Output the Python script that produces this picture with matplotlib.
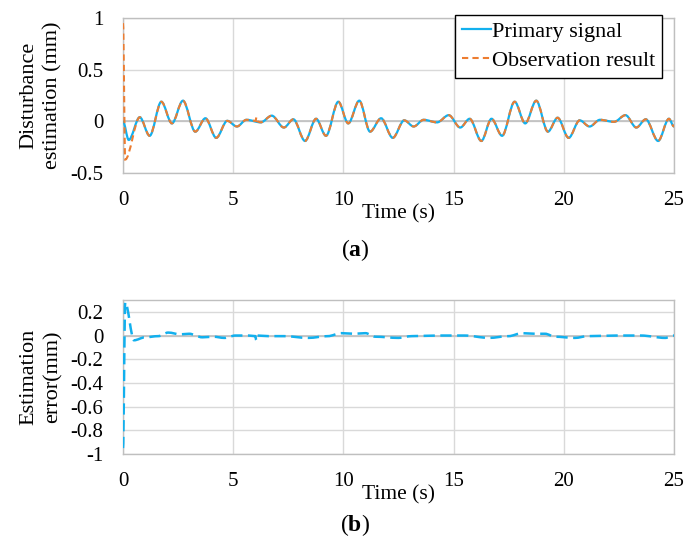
import matplotlib
matplotlib.use("Agg")
import matplotlib.pyplot as plt
from matplotlib.path import Path
from matplotlib.patches import PathPatch
from matplotlib.lines import Line2D

plt.rcParams['font.family'] = ['Liberation Serif', 'DejaVu Serif']
plt.rcParams['mathtext.fontset'] = 'custom'
plt.rcParams['mathtext.rm'] = 'Liberation Serif'
plt.rcParams['mathtext.bf'] = 'Liberation Serif:bold'

primary_t = [0.0, 0.26, 0.76, 1.21, 1.74, 2.22, 2.72, 3.28, 3.74, 4.23, 4.73, 5.17, 5.6,
             6.25, 6.75, 7.3, 7.73, 8.26, 8.76, 9.21, 9.77, 10.22, 10.72, 11.21, 11.71,
             12.24, 12.76, 13.19, 13.64, 14.25, 14.78, 15.3, 15.73, 16.26, 16.72, 17.2,
             17.77, 18.25, 18.75, 19.28, 19.72, 20.22, 20.72, 21.17, 21.64, 22.28, 22.8,
             23.29, 23.72, 24.28, 24.77, 25.0]
primary_v = [0.0, -0.18, 0.04, -0.14, 0.19, -0.02, 0.20, -0.10, 0.03, -0.16, 0.005, -0.05, 0.015,
             -0.01, 0.055, -0.06, 0.02, -0.19, 0.025, -0.14, 0.19, -0.02, 0.20, -0.10, 0.03,
             -0.16, 0.01, -0.05, 0.015, -0.01, 0.06, -0.06, 0.025, -0.19, 0.025, -0.14,
             0.19, -0.02, 0.20, -0.10, 0.035, -0.16, 0.01, -0.05, 0.015, -0.005, 0.06,
             -0.06, 0.02, -0.19, 0.025, -0.05]

# observer: start transient and a small blip near 6 s, otherwise on the signal
obs_start_t = [0.0, 0.1]
obs_start_v = [0.95, -0.37]
obs_blip_t = [6.02, 6.05, 6.08]
obs_blip_v = [0.005, 0.04, 0.0]

# estimation error
err_t = [0.0, 0.1, 0.5, 1.0, 1.6, 2.05, 2.6, 3.0, 3.6, 4.1, 4.6, 5.1, 5.7, 6.0, 6.05, 6.1,
         6.6, 7.3, 8.4, 9.3, 9.9, 10.5, 11.0, 11.45, 12.5, 13.1, 14.3, 15.5, 16.6, 17.5,
         18.1, 18.7, 19.15, 19.6, 20.5, 21.1, 22.4, 23.5, 24.6, 25.0]
err_v = [-0.95, 0.28, -0.04, -0.015, -0.005, 0.025, 0.01, 0.015, -0.015, -0.01, -0.02, 0.0,
         0.0, -0.005, -0.04, 0.0, -0.005, -0.005, -0.02, -0.005, 0.02, 0.015, 0.02, -0.01,
         -0.02, -0.005, 0.0, 0.0, -0.02, -0.005, 0.02, 0.015, 0.015, -0.01, -0.02, -0.005,
         0.0, 0.0, -0.02, 0.0]

obs_t = obs_start_t + primary_t[2:13] + obs_blip_t + primary_t[13:]
obs_v = obs_start_v + primary_v[2:13] + obs_blip_v + primary_v[13:]

blue = '#12B0EE'
orange = '#ED7D31'
grid_c = '#D9D9D9'


def smooth_path(t, v):
    # bezier with flat tangents at every read point (smooth line like the excel chart)
    verts = [(t[0], v[0])]
    codes = [Path.MOVETO]
    for i in range(len(t) - 1):
        dt = t[i + 1] - t[i]
        verts += [(t[i] + dt / 3, v[i]), (t[i + 1] - dt / 3, v[i + 1]), (t[i + 1], v[i + 1])]
        codes += [Path.CURVE4] * 3
    return Path(verts, codes)


def style(ax, ylim, yticks, ylabels):
    ax.set_xlim(0, 25)
    ax.set_ylim(*ylim)
    ax.set_xticks([0, 5, 10, 15, 20, 25])
    ax.set_yticks(yticks)
    ax.set_yticklabels(ylabels)
    ax.grid(True, color=grid_c, lw=1)
    ax.set_axisbelow(True)
    ax.axhline(0, color='#BFBFBF', lw=1.2, zorder=1)
    for s in ax.spines.values():
        s.set_color('#BFBFBF')
        s.set_linewidth(1)
    ax.tick_params(length=0, labelsize=15)
    ax.tick_params(axis='y', pad=14)
    ax.tick_params(axis='x', pad=13)
    ax.set_xlabel('Time (s)', fontsize=15.5)
    ax.xaxis.set_label_coords(0.5, -0.2)


fig = plt.figure(figsize=(6.86, 5.54), dpi=100)
ax1 = fig.add_axes([0.1793, 0.6877, 0.8032, 0.2798])
ax2 = fig.add_axes([0.1793, 0.1805, 0.8032, 0.2780])

style(ax1, (-0.5, 1), [-0.5, 0, 0.5, 1], ['-0.5', '0', '0.5', '1'])
ax1.add_patch(PathPatch(smooth_path(primary_t, primary_v), fill=False, edgecolor=blue, lw=1.6, zorder=3))
ax1.add_patch(PathPatch(smooth_path(obs_t, obs_v), fill=False, edgecolor=orange, lw=1.5,
                        linestyle=(0, (3, 2)), zorder=4))
ax1.set_ylabel('Disturbance\nestimation (mm)', fontsize=16, linespacing=1.35)
ax1.yaxis.set_label_coords(-0.11, 0.5)

handles = [Line2D([], [], color=blue, lw=1.6),
           Line2D([], [], color=orange, lw=1.5, linestyle=(0, (3, 2)))]
leg = ax1.legend(handles, ['Primary signal', 'Observation result'], loc='upper right',
                 bbox_to_anchor=(662 / 686, 1 - 15 / 554), bbox_transform=fig.transFigure,
                 fontsize=16, fancybox=False, framealpha=1, edgecolor='black',
                 handlelength=1.3, handletextpad=0.05, borderpad=0.3, labelspacing=0.38,
                 borderaxespad=0)
leg.get_frame().set_linewidth(1)

yt2 = [-1, -0.8, -0.6, -0.4, -0.2, 0, 0.2]
style(ax2, (-1, 0.3), yt2, ['-1', '-0.8', '-0.6', '-0.4', '-0.2', '0', '0.2'])
ax2.add_patch(PathPatch(smooth_path(err_t, err_v), fill=False, edgecolor=blue, lw=1.8,
                        linestyle=(0, (4.5, 2.2)), zorder=3))
ax2.set_ylabel('Estimation\nerror(mm)', fontsize=16, linespacing=1.35)
ax2.yaxis.set_label_coords(-0.11, 0.5)

fig.text(355 / 686, 1 - 250 / 554, r'($\mathbf{a}$)', ha='center', va='center', fontsize=17)
fig.text(355 / 686, 1 - 525 / 554, r'($\mathbf{b}$)', ha='center', va='center', fontsize=17)

fig.savefig('out.png', dpi=100)
